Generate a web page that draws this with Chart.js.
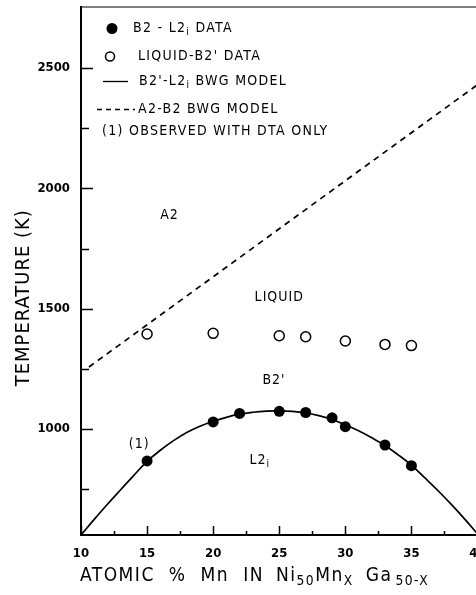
<!DOCTYPE html>
<html>
<head>
<meta charset="utf-8">
<script src="https://cdn.jsdelivr.net/npm/chart.js@4/dist/chart.umd.min.js"></script>
<style>
  html, body { margin: 0; padding: 0; background: #fff; overflow: hidden; }
  canvas { display: block; }
</style>
</head>
<body>
<canvas id="c" width="484" height="595"></canvas>
<script>
// B2 - L2i transition (filled dots)
var b2l2Mn = [15, 20, 22, 25, 27, 29, 30, 33, 35];
var b2l2Temp = [868, 1030, 1065, 1074, 1069, 1047, 1010, 934, 848];

// liquid - B2' (open circles)
var liquidMn = [15, 20, 25, 27, 30, 33, 35];
var liquidTemp = [1395, 1398, 1388, 1384, 1366, 1352, 1347];

// B2'-L2i BWG model curve
var modelMn = [10, 11, 12, 13, 14, 15, 16, 17, 18, 19, 20, 21, 22, 23, 24, 25,
               26, 27, 28, 29, 30, 31, 32, 33, 34, 35, 36, 37, 38, 39, 40];
var modelTemp = [560, 625, 688, 748, 808, 866, 912, 952, 986, 1012, 1032, 1049, 1062, 1070, 1075, 1076,
                 1074, 1068, 1056, 1040, 1018, 993, 964, 932, 893, 850, 798, 745, 688, 628, 565];

// A2-B2 BWG model (dashed)
var a2b2Mn = [10.6, 40];
var a2b2Temp = [1258, 2431];

// phase field labels
var regionText = ["A2", "LIQUID", "B2'", "L2", "(1)"];
var regionSub = ["", "", "", "i", ""];
var regionMn = [16.7, 25.0, 24.6, 23.4, 14.4];
var regionTemp = [1887, 1547, 1203, 872, 936];

// axis ticks (labels only on the major ones)
var xTickValues = [10, 12.5, 15, 17.5, 20, 22.5, 25, 27.5, 30, 32.5, 35, 37.5, 40];
var xTickLabels = ["10", "", "15", "", "20", "", "25", "", "30", "", "35", "", "40"];
var yTickValues = [750, 1000, 1250, 1500, 1750, 2000, 2250, 2500];
var yTickLabels = ["", "1000", "", "1500", "", "2000", "", "2500"];

var FONT = "'DejaVu Sans Condensed', 'DejaVu Sans', sans-serif";

function toPoints(xs, ys) {
  return xs.map(function (x, i) { return { x: x, y: ys[i] }; });
}

// draws text runs, some of them as subscripts, returns the end x
function drawRuns(ctx, runs, x, y, size) {
  runs.forEach(function (r) {
    if (r.gap) { x += r.gap; return; }
    var s = r.sub ? size * 0.72 : size;
    ctx.font = s + "px " + FONT;
    ctx.fillText(r.t, x, r.sub ? y + size * 0.3 : y);
    x += ctx.measureText(r.t).width;
  });
  return x;
}

var decorPlugin = {
  id: "decor",
  afterDraw: function (chart) {
    var ctx = chart.ctx;
    var area = chart.chartArea;
    var xs = chart.scales.x;
    var ys = chart.scales.y;

    ctx.save();
    ctx.strokeStyle = "#000";
    ctx.fillStyle = "#000";

    // top frame
    ctx.lineWidth = 1;
    ctx.beginPath();
    ctx.moveTo(area.left, area.top + 0.5);
    ctx.lineTo(area.right, area.top + 0.5);
    ctx.stroke();

    // inward tick marks, longer where there is a label
    ctx.lineWidth = 1.5;
    xs.ticks.forEach(function (t, i) {
      var px = Math.round(xs.getPixelForValue(t.value)) + 0.5;
      var len = xTickLabels[i] ? 9 : 4;
      ctx.beginPath();
      ctx.moveTo(px, area.bottom);
      ctx.lineTo(px, area.bottom - len);
      ctx.stroke();
    });
    ys.ticks.forEach(function (t, i) {
      var py = Math.round(ys.getPixelForValue(t.value)) + 0.5;
      var len = yTickLabels[i] ? 12 : 8;
      ctx.beginPath();
      ctx.moveTo(area.left, py);
      ctx.lineTo(area.left + len, py);
      ctx.stroke();
    });

    // phase field labels
    ctx.textBaseline = "middle";
    ctx.textAlign = "left";
    ctx.letterSpacing = "1px";
    regionText.forEach(function (txt, i) {
      var px = xs.getPixelForValue(regionMn[i]);
      var py = ys.getPixelForValue(regionTemp[i]);
      ctx.font = "14px " + FONT;
      var w = ctx.measureText(txt).width;
      drawRuns(ctx, [{ t: txt }, { t: regionSub[i], sub: true }], px - w / 2, py, 14);
    });

    // legend
    var lx = area.left;
    var ty = area.top;
    ctx.letterSpacing = "1.3px";
    ctx.beginPath();
    ctx.arc(lx + 31, ty + 22, 5.5, 0, Math.PI * 2);
    ctx.fill();
    drawRuns(ctx, [{ t: "B2 - L2" }, { t: "i", sub: true }, { t: " DATA" }], lx + 52, ty + 22, 14);

    ctx.lineWidth = 1.5;
    ctx.beginPath();
    ctx.arc(lx + 29, ty + 50, 4.5, 0, Math.PI * 2);
    ctx.stroke();
    drawRuns(ctx, [{ t: "LIQUID-B2' DATA" }], lx + 57, ty + 50, 14);

    ctx.lineWidth = 1.3;
    ctx.beginPath();
    ctx.moveTo(lx + 22, ty + 75);
    ctx.lineTo(lx + 47, ty + 75);
    ctx.stroke();
    drawRuns(ctx, [{ t: "B2'-L2" }, { t: "i", sub: true }, { t: " BWG MODEL" }], lx + 58, ty + 75, 14);

    ctx.setLineDash([5, 4]);
    ctx.beginPath();
    ctx.moveTo(lx + 16, ty + 103);
    ctx.lineTo(lx + 54, ty + 103);
    ctx.stroke();
    ctx.setLineDash([]);
    drawRuns(ctx, [{ t: "A2-B2 BWG MODEL" }], lx + 57, ty + 103, 14);

    drawRuns(ctx, [{ t: "(1) OBSERVED WITH DTA ONLY" }], lx + 21, ty + 125, 14);

    // x axis title with subscripts
    ctx.letterSpacing = "1.5px";
    drawRuns(ctx, [
      { t: "ATOMIC" }, { gap: 14 }, { t: "%" }, { gap: 14 }, { t: "Mn" }, { gap: 14 },
      { t: "IN" }, { gap: 12 }, { t: "Ni" }, { t: "50", sub: true }, { t: "Mn" }, { t: "X", sub: true },
      { gap: 12 }, { t: "Ga" }, { gap: 3 }, { t: "50-X", sub: true }
    ], area.left - 1, area.bottom + 41, 19);

    // y axis title
    ctx.save();
    ctx.translate(24, (area.top + area.bottom) / 2 + 27);
    ctx.rotate(-Math.PI / 2);
    ctx.textAlign = "center";
    ctx.font = "20px " + FONT;
    ctx.letterSpacing = "1px";
    ctx.fillText("TEMPERATURE (K)", 0, 0);
    ctx.restore();

    ctx.restore();
  }
};

new Chart(document.getElementById("c"), {
  type: "scatter",
  data: {
    datasets: [
      {
        label: "B2-L2i data",
        data: toPoints(b2l2Mn, b2l2Temp),
        pointRadius: 5.5,
        pointBackgroundColor: "#000",
        pointBorderColor: "#000",
        pointBorderWidth: 0,
        order: 0
      },
      {
        label: "Liquid-B2' data",
        data: toPoints(liquidMn, liquidTemp),
        pointRadius: 5,
        pointBackgroundColor: "#fff",
        pointBorderColor: "#000",
        pointBorderWidth: 1.5,
        order: 0
      },
      {
        label: "B2'-L2i BWG model",
        data: toPoints(modelMn, modelTemp),
        showLine: true,
        borderColor: "#000",
        borderWidth: 1.7,
        pointRadius: 0,
        tension: 0.4,
        order: 1
      },
      {
        label: "A2-B2 BWG model",
        data: toPoints(a2b2Mn, a2b2Temp),
        showLine: true,
        borderColor: "#000",
        borderWidth: 1.7,
        borderDash: [6, 5],
        pointRadius: 0,
        order: 1
      }
    ]
  },
  options: {
    responsive: false,
    animation: false,
    devicePixelRatio: 1,
    layout: { padding: { top: 5, right: 5, left: 0, bottom: 0 } },
    plugins: {
      legend: { display: false },
      tooltip: { enabled: false }
    },
    scales: {
      x: {
        type: "linear",
        min: 10,
        max: 40,
        grid: { display: false },
        border: { display: true, color: "#000", width: 2 },
        ticks: {
          autoSkip: false,
          maxRotation: 0,
          padding: 3,
          color: "#000",
          font: { family: FONT, size: 13, weight: "bold" },
          callback: function (v, i) { return xTickLabels[i]; }
        },
        afterBuildTicks: function (s) {
          s.ticks = xTickValues.map(function (v) { return { value: v }; });
        },
        afterFit: function (s) {
          s.height = 60;
          s.paddingLeft = 0;
          s.paddingRight = 0;
        }
      },
      y: {
        type: "linear",
        min: 560,
        max: 2756,
        grid: { display: false },
        border: { display: true, color: "#000", width: 2 },
        ticks: {
          autoSkip: false,
          padding: 3,
          color: "#000",
          font: { family: FONT, size: 13, weight: "bold" },
          callback: function (v, i) { return yTickLabels[i]; }
        },
        afterBuildTicks: function (s) {
          s.ticks = yTickValues.map(function (v) { return { value: v }; });
        },
        afterFit: function (s) {
          s.width = 81;
          s.paddingTop = 0;
          s.paddingBottom = 0;
        }
      }
    }
  },
  plugins: [decorPlugin]
});
</script>
</body>
</html>
